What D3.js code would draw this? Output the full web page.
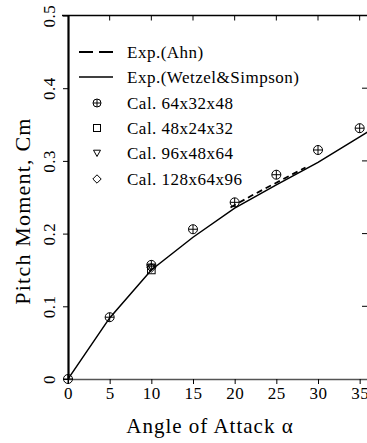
<!DOCTYPE html>
<html>
<head>
<meta charset="utf-8">
<script src="https://cdn.jsdelivr.net/npm/d3@7/dist/d3.min.js"></script>
<style>
  body { margin: 0; background: #fff; }
  svg { display: block; }
  text { font-family: "Liberation Serif", "Times New Roman", serif; fill: #000; }
</style>
</head>
<body>
<script>
// data
var alphaTicks = [0, 5, 10, 15, 20, 25, 30, 35];
var cmTicks = [0, 0.1, 0.2, 0.3, 0.4, 0.5];
var cmTickLabels = ["0", "0.1", "0.2", "0.3", "0.4", "0.5"];

// Exp.(Wetzel&Simpson) - solid
var wetzelAlpha = [0, 5, 10, 15, 20, 25, 30, 35, 36];
var wetzelCm = [0, 0.084, 0.15, 0.195, 0.235, 0.267, 0.298, 0.333, 0.34];
// Exp.(Ahn) - dashed
var ahnAlpha = [19.5, 22, 25, 28.5];
var ahnCm = [0.236, 0.252, 0.27, 0.291];
// Cal. 64x32x48
var cal64Alpha = [0, 5, 10, 15, 20, 25, 30, 35];
var cal64Cm = [0, 0.085, 0.157, 0.206, 0.243, 0.281, 0.315, 0.345];
// Cal. 48x24x32
var cal48Alpha = [10];
var cal48Cm = [0.15];
// Cal. 96x48x64
var cal96Alpha = [10];
var cal96Cm = [0.154];
// Cal. 128x64x96
var cal128Alpha = [10];
var cal128Cm = [0.153];

var legendLabels = ["Exp.(Ahn)", "Exp.(Wetzel&Simpson)", "Cal. 64x32x48",
                    "Cal. 48x24x32", "Cal. 96x48x64", "Cal. 128x64x96"];

var W = 367, H = 443;
var margin = { top: 15.5, left: 68, right: -1, bottom: 64 };
var x0 = margin.left, x1 = W - margin.right, y0 = H - margin.bottom, y1 = margin.top;

var svg = d3.select("body").append("svg")
    .attr("width", W)
    .attr("height", H);

svg.append("defs").append("clipPath").attr("id", "clip")
    .append("rect").attr("x", x0).attr("y", y1).attr("width", x1 - x0).attr("height", y0 - y1);

var x = d3.scaleLinear().domain([0, 36]).range([x0, x1]);
var y = d3.scaleLinear().domain([0, 0.5]).range([y0, y1]);

// frame: top + right
svg.append("line").attr("x1", x0 - 6).attr("x2", x1).attr("y1", y1).attr("y2", y1)
    .attr("stroke", "#000").attr("stroke-width", 1.3);
svg.append("line").attr("x1", x1).attr("x2", x1).attr("y1", y1).attr("y2", y0)
    .attr("stroke", "#000").attr("stroke-width", 1.3);

// top ticks (inward)
svg.selectAll(".ttick").data(alphaTicks.slice(1)).enter().append("line")
    .attr("x1", function (d) { return x(d); }).attr("x2", function (d) { return x(d); })
    .attr("y1", y1).attr("y2", y1 + 5)
    .attr("stroke", "#000").attr("stroke-width", 1);

// right ticks (inward)
svg.selectAll(".rtick").data(cmTicks.slice(1, 5)).enter().append("line")
    .attr("x1", x1 - 6).attr("x2", x1)
    .attr("y1", function (d) { return y(d); }).attr("y2", function (d) { return y(d); })
    .attr("stroke", "#000").attr("stroke-width", 1);

// bottom axis
var xAxis = d3.axisBottom(x).tickValues(alphaTicks).tickSize(5).tickSizeOuter(0);
var gx = svg.append("g").attr("transform", "translate(0," + y0 + ")").call(xAxis);
gx.attr("font-family", null);
gx.select(".domain").attr("stroke", "#555").attr("stroke-width", 1.6);
gx.selectAll(".tick line").attr("stroke", "#000");
gx.selectAll(".tick text").attr("font-size", 17).attr("y", 8).attr("dy", "0.71em")
    .style("letter-spacing", "0.5px");

// left axis
var yAxis = d3.axisLeft(y).tickValues(cmTicks).tickSize(5).tickSizeOuter(0)
    .tickFormat(function (d, i) { return cmTickLabels[i]; });
var gy = svg.append("g").attr("transform", "translate(" + x0 + ",0)").call(yAxis);
gy.attr("font-family", null);
gy.select(".domain").attr("stroke", "#000").attr("stroke-width", 2.2);
gy.selectAll(".tick line").attr("stroke", "#000");
gy.selectAll(".tick text")
    .attr("font-size", 17)
    .attr("text-anchor", "middle")
    .attr("x", null).attr("dy", null)
    .attr("transform", "translate(-13,0) rotate(-90)")
    .style("letter-spacing", "0.5px");

// axis titles
svg.append("text")
    .attr("x", 210).attr("y", 433)
    .attr("text-anchor", "middle")
    .attr("font-size", 21)
    .style("letter-spacing", "1px")
    .text("Angle of Attack \u03b1");

svg.append("text")
    .attr("transform", "translate(30,211) rotate(-90)")
    .attr("text-anchor", "middle")
    .attr("font-size", 22)
    .style("letter-spacing", "1.2px")
    .text("Pitch Moment, Cm");

// lines
var plot = svg.append("g").attr("clip-path", "url(#clip)");
var line = d3.line()
    .x(function (d) { return x(d[0]); })
    .y(function (d) { return y(d[1]); });

plot.append("path")
    .datum(d3.zip(wetzelAlpha, wetzelCm))
    .attr("d", line)
    .attr("fill", "none").attr("stroke", "#000").attr("stroke-width", 1.5);

plot.append("path")
    .datum(d3.zip(ahnAlpha, ahnCm))
    .attr("d", line)
    .attr("fill", "none").attr("stroke", "#000").attr("stroke-width", 1.8)
    .attr("stroke-dasharray", "6,4");

// markers
function marker(g, type, r) {
    if (type == "circle") {
        g.append("circle").attr("r", r).attr("fill", "none").attr("stroke", "#000").attr("stroke-width", 1);
        g.append("line").attr("x1", -r).attr("x2", r).attr("stroke", "#000").attr("stroke-width", 1);
        g.append("line").attr("y1", -r).attr("y2", r).attr("stroke", "#000").attr("stroke-width", 1);
    } else if (type == "square") {
        g.append("rect").attr("x", -r).attr("y", -r).attr("width", 2 * r).attr("height", 2 * r)
            .attr("fill", "none").attr("stroke", "#000").attr("stroke-width", 1);
    } else if (type == "triangle") {
        g.append("path").attr("d", "M" + (-r) + "," + (-r * 0.8) + "L" + r + "," + (-r * 0.8) + "L0," + (r * 1.0) + "Z")
            .attr("fill", "none").attr("stroke", "#000").attr("stroke-width", 1);
    } else {
        g.append("path").attr("d", "M0," + (-r * 1.2) + "L" + (r * 1.2) + ",0L0," + (r * 1.2) + "L" + (-r * 1.2) + ",0Z")
            .attr("fill", "none").attr("stroke", "#000").attr("stroke-width", 1);
    }
}

var calSets = [
    { a: cal48Alpha, c: cal48Cm, t: "square" },
    { a: cal96Alpha, c: cal96Cm, t: "triangle" },
    { a: cal128Alpha, c: cal128Cm, t: "diamond" },
    { a: cal64Alpha, c: cal64Cm, t: "circle" }
];
calSets.forEach(function (s) {
    d3.zip(s.a, s.c).forEach(function (d) {
        var g = svg.append("g").attr("transform", "translate(" + x(d[0]) + "," + y(d[1]) + ")");
        marker(g, s.t, s.t == "circle" ? 4.5 : 3.8);
    });
});

// legend
var legY = [52, 77, 103, 128, 153, 179];
var leg = svg.append("g");
leg.append("line").attr("x1", 79).attr("x2", 113).attr("y1", legY[0]).attr("y2", legY[0])
    .attr("stroke", "#000").attr("stroke-width", 1.8).attr("stroke-dasharray", "14,6");
leg.append("line").attr("x1", 79).attr("x2", 113).attr("y1", legY[1]).attr("y2", legY[1])
    .attr("stroke", "#000").attr("stroke-width", 1.5);
["circle", "square", "triangle", "diamond"].forEach(function (t, i) {
    var g = leg.append("g").attr("transform", "translate(97," + legY[i + 2] + ")");
    marker(g, t, t == "circle" ? 4 : 3.5);
});
legendLabels.forEach(function (l, i) {
    leg.append("text")
        .attr("x", 127).attr("y", legY[i] + 5.5)
        .attr("font-size", 17)
        .style("letter-spacing", "0.5px")
        .text(l);
});
</script>
</body>
</html>
